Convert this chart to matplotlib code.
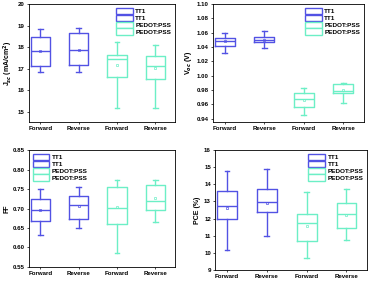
import matplotlib
import matplotlib.pyplot as plt

matplotlib.use("Agg")

plt.rcParams["font.family"] = ["Liberation Sans", "DejaVu Sans"]
plt.rcParams["font.weight"] = "bold"

CATEGORIES = ["Forward", "Reverse", "Forward", "Reverse"]
LEGEND_LABELS = ["TT1", "TT1", "PEDOT:PSS", "PEDOT:PSS"]

# each entry: whisker low, q1, median, q3, whisker high, mean
JSC = [
    (16.85, 17.12, 17.80, 18.48, 18.85, 17.80),
    (16.87, 17.18, 17.88, 18.65, 18.90, 17.87),
    (15.20, 16.60, 17.47, 17.65, 18.25, 17.17),
    (15.17, 16.52, 17.13, 17.60, 18.12, 17.02),
]
VOC = [
    (1.032, 1.041, 1.0488, 1.052, 1.060, 1.048),
    (1.039, 1.047, 1.050, 1.054, 1.062, 1.050),
    (0.945, 0.9557, 0.967, 0.9755, 0.983, 0.966),
    (0.962, 0.976, 0.978, 0.988, 0.9895, 0.980),
]
FF = [
    (0.633, 0.668, 0.697, 0.725, 0.750, 0.697),
    (0.650, 0.672, 0.710, 0.731, 0.755, 0.706),
    (0.585, 0.660, 0.702, 0.754, 0.772, 0.703),
    (0.665, 0.697, 0.720, 0.760, 0.772, 0.726),
]
PCE = [
    (10.17, 11.97, 12.75, 13.63, 14.75, 12.60),
    (11.00, 12.40, 12.95, 13.73, 14.87, 12.92),
    (9.70, 10.68, 11.73, 12.28, 13.53, 11.55),
    (10.76, 11.46, 12.28, 12.92, 13.70, 12.20),
]

BLUE = "#5252e4"
AQUA = "#6cefc6"
COLORS = [BLUE, BLUE, AQUA, AQUA]

PANELS = [
    {"data": JSC, "rect": [0.0786, 0.566, 0.396, 0.420], "ylim": (14.54, 20.0),
     "ticks": [15, 16, 17, 18, 19, 20], "fmt": "{:.0f}",
     "ylabel": r"J$_{sc}$ (mA/cm$^2$)", "legend": "upper right"},
    {"data": VOC, "rect": [0.577, 0.566, 0.409, 0.420], "ylim": (0.9355, 1.10),
     "ticks": [0.94, 0.96, 0.98, 1.00, 1.02, 1.04, 1.06, 1.08, 1.10], "fmt": "{:.2f}",
     "ylabel": r"V$_{oc}$ (V)", "legend": "upper right"},
    {"data": FF, "rect": [0.0786, 0.050, 0.396, 0.416], "ylim": (0.55, 0.85),
     "ticks": [0.55, 0.60, 0.65, 0.70, 0.75, 0.80, 0.85], "fmt": "{:.2f}",
     "ylabel": "FF", "legend": "upper left"},
    {"data": PCE, "rect": [0.583, 0.039, 0.412, 0.427], "ylim": (9.0, 16.0),
     "ticks": [9, 10, 11, 12, 13, 14, 15, 16], "fmt": "{:.0f}",
     "ylabel": "PCE (%)", "legend": "upper right"},
]


def draw_panel(fig, cfg):
    ax = fig.add_axes(cfg["rect"])
    positions = list(range(1, len(CATEGORIES) + 1))
    for pos, row, color in zip(positions, cfg["data"], COLORS):
        lo, q1, med, q3, hi, mean = row
        stats = [{"whislo": lo, "q1": q1, "med": med, "q3": q3, "whishi": hi,
                  "mean": mean, "fliers": []}]
        props = {"color": color, "linewidth": 1.0}
        ax.bxp(stats, positions=[pos], widths=0.5, showmeans=True,
               boxprops=props, whiskerprops=props, capprops=props,
               medianprops=props,
               meanprops={"marker": "s", "markersize": 1.5,
                          "markerfacecolor": "none", "markeredgecolor": color,
                          "markeredgewidth": 0.5},
               capwidths=0.12)

    ax.set_xlim(0.7, 4.52)
    ax.set_ylim(*cfg["ylim"])
    ax.set_xticks(positions)
    ax.set_xticklabels(CATEGORIES)
    ax.set_yticks(cfg["ticks"])
    ax.set_yticklabels([cfg["fmt"].format(t) for t in cfg["ticks"]])
    ax.tick_params(labelsize=4.4, length=1.5, width=0.5, pad=1.5)
    for spine in ax.spines.values():
        spine.set_linewidth(0.6)
    ax.set_ylabel(cfg["ylabel"], fontsize=5, fontweight="bold", labelpad=2)

    handles = [plt.Rectangle((0, 0), 1, 1, facecolor="white", edgecolor=c,
                             linewidth=1.0) for c in COLORS]
    ax.legend(handles, LEGEND_LABELS, loc=cfg["legend"], fontsize=4.6,
              frameon=False, handlelength=2.6, handleheight=1.2,
              labelspacing=0.05, handletextpad=0.4, borderaxespad=0.2)
    return ax


def main():
    fig = plt.figure(figsize=(3.69, 2.81), dpi=100)
    fig.patch.set_facecolor("white")
    for cfg in PANELS:
        draw_panel(fig, cfg)
    fig.savefig("out.png", dpi=100)
    plt.close(fig)


if __name__ == "__main__":
    main()
